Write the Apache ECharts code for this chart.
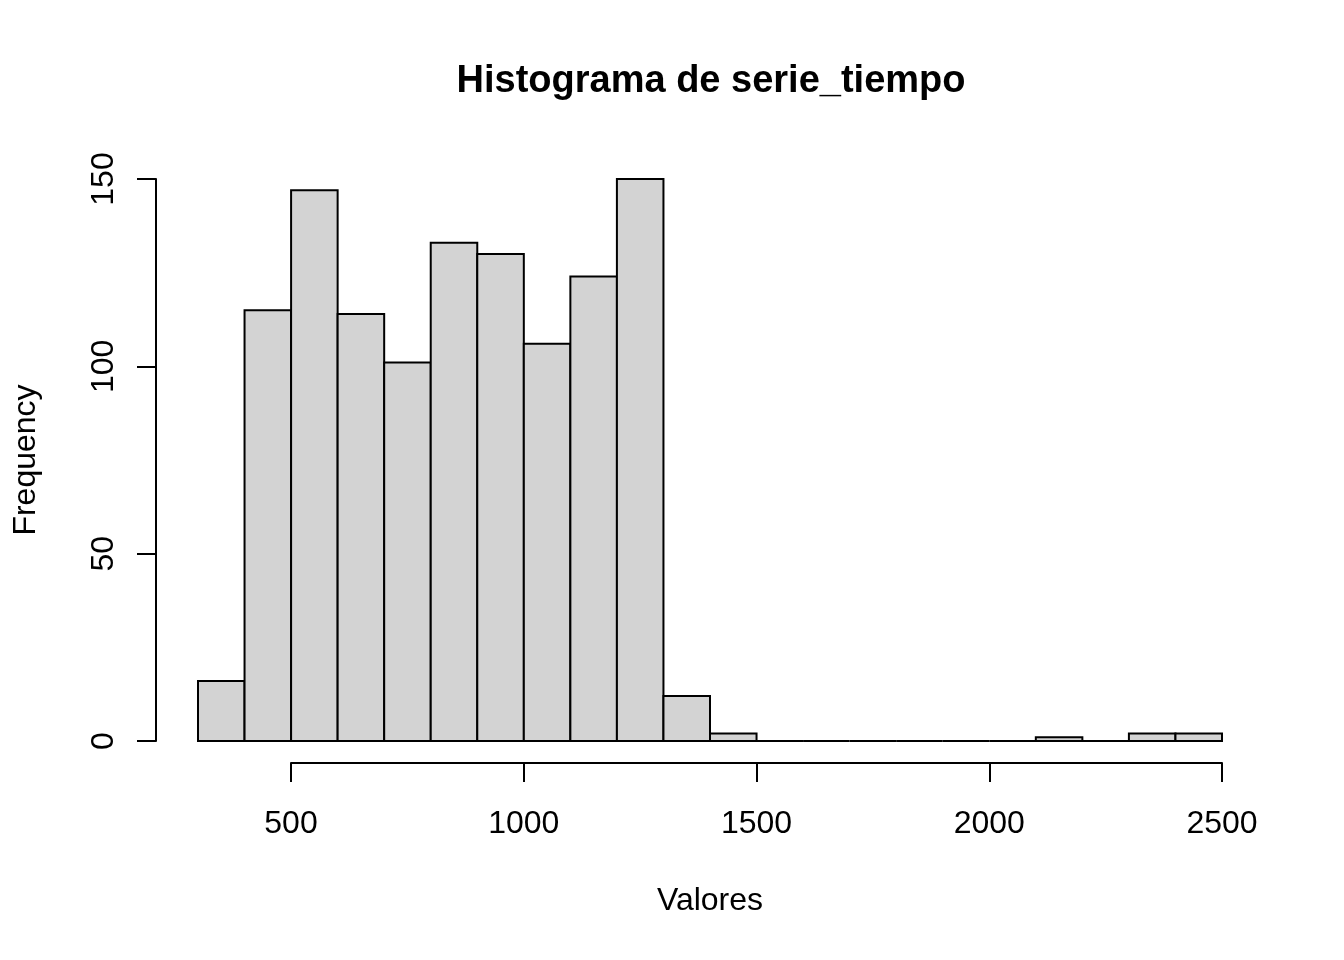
<!DOCTYPE html>
<html>
<head>
<meta charset="utf-8">
<script src="https://cdn.jsdelivr.net/npm/echarts@6/dist/echarts.min.js"></script>
<style>
  html, body { margin: 0; padding: 0; background: #fff; }
  #chart { width: 1344px; height: 960px; }
</style>
</head>
<body>
<div id="chart"></div>
<script>
var binStarts = [300, 400, 500, 600, 700, 800, 900, 1000, 1100, 1200, 1300, 1400,
                 1500, 1600, 1700, 1800, 1900, 2000, 2100, 2200, 2300, 2400];
var binWidth = 100;
var counts = [16, 115, 147, 114, 101, 133, 130, 106, 124, 150, 12, 2,
              0, 0, 0, 0, 0, 0, 1, 0, 2, 2];
var xTicks = [500, 1000, 1500, 2000, 2500];
var yTicks = [0, 50, 100, 150];

var chart = echarts.init(document.getElementById("chart"));

// datos para la serie custom: [inicio, fin, frecuencia]
var histData = [];
for (var i = 0; i < binStarts.length; i++) {
  histData.push([binStarts[i], binStarts[i] + binWidth, counts[i]]);
}

var font = "Liberation Sans, Arial, sans-serif";

chart.setOption({
  animation: false,
  title: [
    {
      text: "Histograma de serie_tiempo",
      left: 706,
      top: 58,
      textAlign: "center",
      textStyle: { fontFamily: font, fontSize: 38, fontWeight: "bold", color: "#000" }
    },
    {
      // etiqueta del eje x, centrada en la zona de dibujo como en R
      text: "Valores",
      left: 705,
      top: 880,
      textAlign: "center",
      textStyle: { fontFamily: font, fontSize: 32, fontWeight: "normal", color: "#000" }
    }
  ],
  grid: [
    // zona de barras: 300..2500 en x, 0..150 en y
    { left: 198, right: 122, top: 179, bottom: 219 },
    // eje x separado (500..2500)
    { left: 291, right: 122, top: 700, bottom: 197 },
    // eje y separado (0..150)
    { left: 156, width: 50, top: 179, bottom: 219 }
  ],
  xAxis: [
    { gridIndex: 0, type: "value", min: 300, max: 2500, show: false },
    {
      gridIndex: 1, type: "value", min: xTicks[0], max: xTicks[xTicks.length - 1], interval: 500,
      position: "bottom",
      axisLine: { show: true, onZero: false, lineStyle: { color: "#000", width: 2 } },
      axisTick: { show: true, length: 19, lineStyle: { color: "#000", width: 2 } },
      axisLabel: {
        fontFamily: font, fontSize: 32, color: "#000", margin: 45,
        showMinLabel: true, showMaxLabel: true,
        formatter: function (v) { return String(v); }
      },
      splitLine: { show: false }
    },
    { gridIndex: 2, type: "value", min: 0, max: 1, show: false }
  ],
  yAxis: [
    { gridIndex: 0, type: "value", min: 0, max: 150, show: false },
    { gridIndex: 1, type: "value", min: 0, max: 1, show: false },
    {
      gridIndex: 2, type: "value", min: yTicks[0], max: yTicks[yTicks.length - 1], interval: 50,
      position: "left",
      axisLine: { show: true, onZero: false, lineStyle: { color: "#000", width: 2 } },
      axisTick: { show: true, length: 19, lineStyle: { color: "#000", width: 2 } },
      axisLabel: {
        fontFamily: font, fontSize: 32, color: "#000", margin: 36, rotate: 90,
        showMinLabel: true, showMaxLabel: true
      },
      splitLine: { show: false },
      name: "Frequency",
      nameLocation: "middle",
      nameGap: 114,
      nameRotate: 90,
      nameTextStyle: { fontFamily: font, fontSize: 32, color: "#000" }
    }
  ],
  series: [
    {
      type: "custom",
      xAxisIndex: 0,
      yAxisIndex: 0,
      renderItem: function (params, api) {
        var p0 = api.coord([api.value(0), 0]);
        var p1 = api.coord([api.value(1), api.value(2)]);
        return {
          type: "rect",
          shape: { x: p0[0], y: p1[1], width: p1[0] - p0[0], height: p0[1] - p1[1] },
          style: { fill: "#D3D3D3", stroke: "#000", lineWidth: 2 }
        };
      },
      encode: { x: [0, 1], y: 2 },
      data: histData
    }
  ]
});
</script>
</body>
</html>
